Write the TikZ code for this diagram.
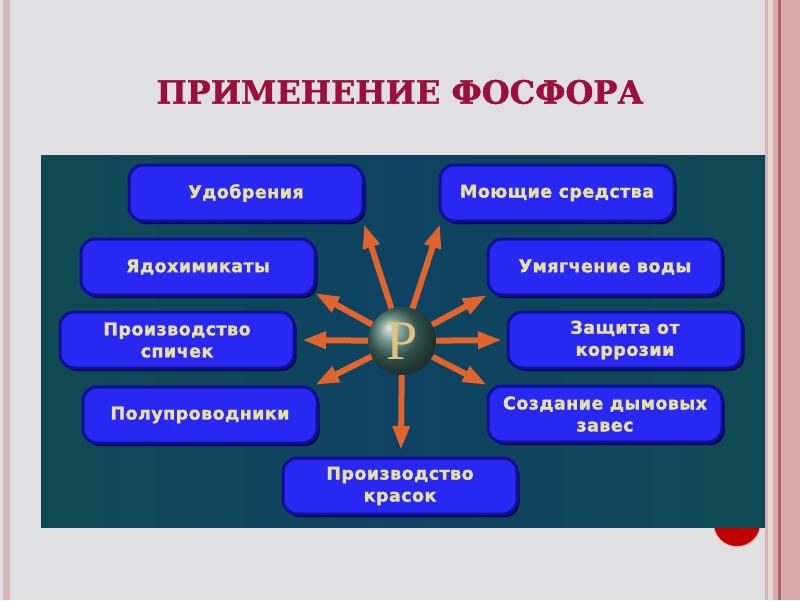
\documentclass[tikz,border=0pt]{standalone}
\usepackage{fontspec}
\setmainfont{DejaVu Sans}
\newfontfamily\boxfont[LetterSpace=2.5,BoldFeatures={FakeBold=1.6}]{DejaVu Sans}
\newfontfamily\titlefont[BoldFeatures={FakeBold=1.2}]{DejaVu Serif}
\newfontfamily\pfont{Liberation Serif}
\usetikzlibrary{arrows.meta,shadows}
\definecolor{bg}{HTML}{E0E0E2}
\definecolor{pinkA}{HTML}{D6B6B8}
\definecolor{paleP}{HTML}{E8D8D8}
\definecolor{pinkC}{HTML}{D9ABAE}
\definecolor{darkline}{HTML}{B0646E}
\definecolor{dotred}{HTML}{C00000}
\definecolor{dotrim}{HTML}{F0C4C0}
\definecolor{panelmid}{HTML}{0E4262}
\definecolor{paneledge}{HTML}{0F4A52}
\definecolor{titlered}{HTML}{9B0F3F}
\definecolor{boxfill}{HTML}{2828F2}
\definecolor{boxrim}{HTML}{0E0E96}
\definecolor{boxshadow}{HTML}{07074A}
\definecolor{txt}{HTML}{E8E2A2}
\definecolor{arrorange}{HTML}{E0642C}
\definecolor{sphere}{HTML}{46736A}
\definecolor{gold}{HTML}{E2C283}
\tikzset{
  abox/.style={rounded corners=14pt, fill=boxfill, draw=boxrim, line width=3pt,
    minimum width=234pt, minimum height=56pt, align=center, text=txt,
    font=\boxfont\bfseries\fontsize{17.5}{22}\selectfont,
    drop shadow={shadow xshift=2.5pt, shadow yshift=-3pt, fill=boxshadow, opacity=1}},
  arr/.style={draw=arrorange, line width=6pt,
    -{Triangle[length=24pt,width=16pt,fill=arrorange]}}
}
\begin{document}
\begin{tikzpicture}[x=1pt,y=-1pt]
\useasboundingbox (0,0) rectangle (800,600);
\fill[bg] (0,0) rectangle (800,600);
% side borders
\fill[pinkA] (3,0) rectangle (10,600);
\fill[pinkA] (765,0) rectangle (768,600);
\fill[paleP] (768,0) rectangle (773,600);
\fill[pinkC] (773,0) rectangle (800,600);
\fill[darkline] (778,0) rectangle (781,600);
% red dot under the panel
\node[circle, fill=dotred, draw=dotrim, line width=1.5pt, minimum size=48pt, inner sep=0pt] (dot) at (737,523) {};
% panel
\shade[left color=paneledge, right color=paneledge, middle color=panelmid] (41,155) rectangle (765,527);
% title
\node[font=\titlefont\bfseries\fontsize{32}{36}\selectfont, text=titlered] (title) at (400,92) {ПРИМЕНЕНИЕ ФОСФОРА};
% boxes
\node[abox] (b1) at (246,193) {Удобрения};
\node[abox] (b2) at (198,267) {Ядохимикаты};
\node[abox] (b3) at (177,340) {Производство\\спичек};
\node[abox] (b4) at (200,415) {Полупроводники};
\node[abox] (b5) at (400,486) {Производство\\красок};
\node[abox] (b6) at (557,193) {Моющие средства};
\node[abox] (b7) at (605,267) {Умягчение воды};
\node[abox] (b8) at (625,340) {Защита от\\коррозии};
\node[abox] (b9) at (605,414) {Создание дымовых\\завес};
% center sphere
\node[circle, minimum size=68pt, inner sep=0pt, shading=ball, ball color=sphere,
  text=gold, font=\pfont\fontsize{56}{56}\selectfont] (P) at (402,341) {P};
% arrow tips
\coordinate (t1) at (364,224);
\coordinate (t2) at (440,224);
\coordinate (t3) at (315,293);
\coordinate (t4) at (302,340);
\coordinate (t5) at (315,385);
\coordinate (t6) at (401,450);
\coordinate (t7) at (487,385);
\coordinate (t8) at (502,340);
\coordinate (t9) at (487,295);
\foreach \t in {t1,t2,t3,t4,t5,t6,t7,t8,t9} \draw[arr] (P) -- (\t);
\end{tikzpicture}
\end{document}
